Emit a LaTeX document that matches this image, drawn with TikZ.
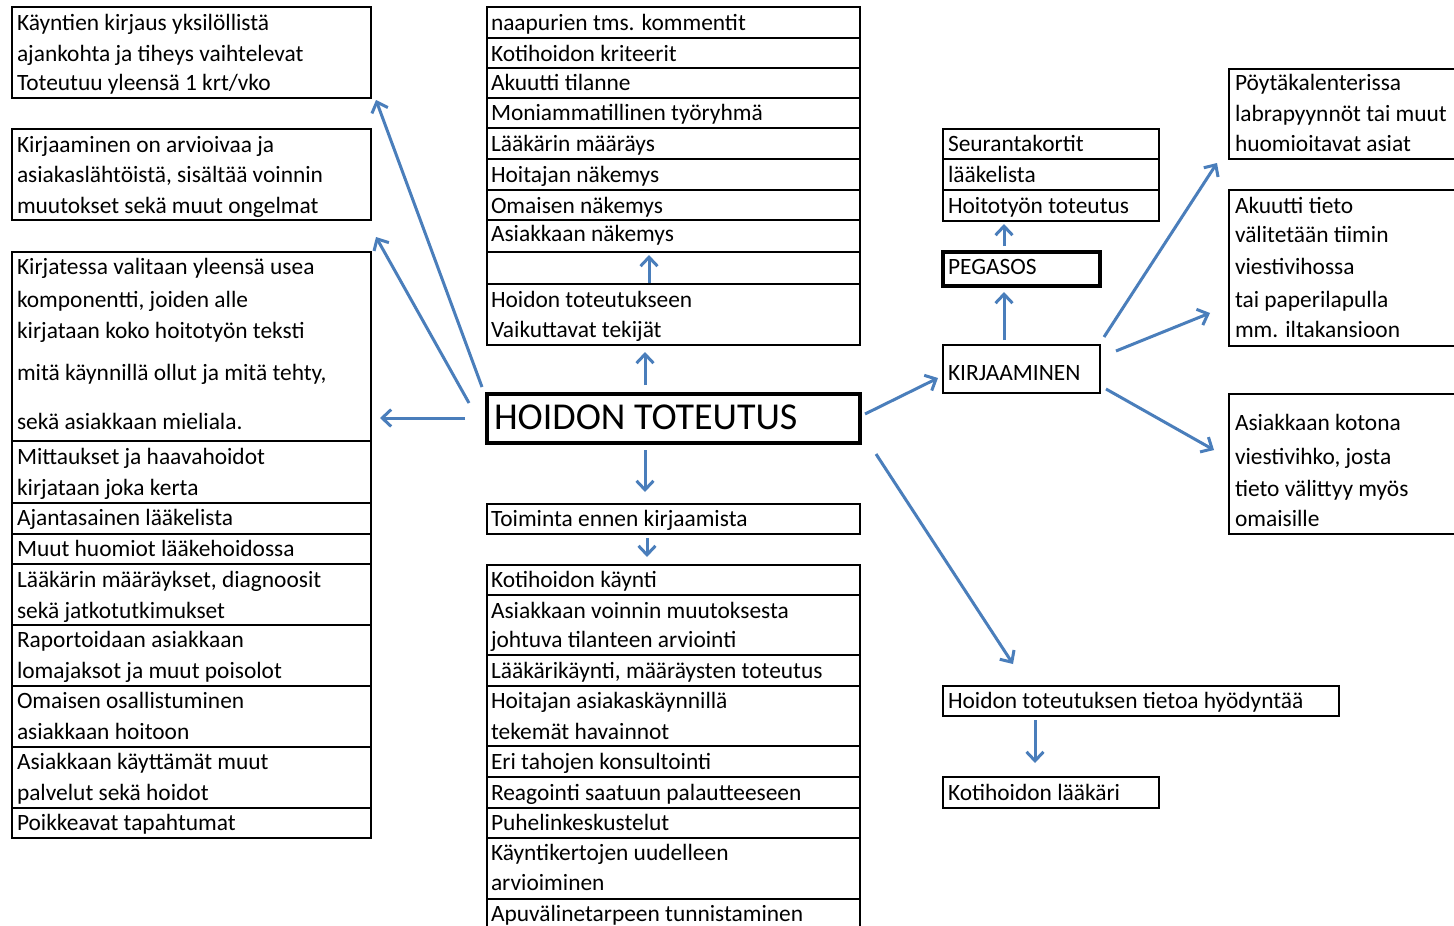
\documentclass[tikz,border=0pt]{standalone}
\usepackage{fontspec}
\setmainfont{Carlito}
\usetikzlibrary{arrows.meta,calc}
\definecolor{arrblue}{HTML}{4A7EBB}
\tikzset{
  box/.style={draw=black, line width=2.7pt, rectangle, inner sep=0pt, outer sep=0pt, anchor=north west},
  thickbox/.style={line width=4pt},
  txt/.style={anchor=base west, inner sep=0pt, outer sep=0pt, font=\fontsize{23.4}{28}\selectfont, text=black},
  bigtxt/.style={anchor=base west, inner sep=0pt, outer sep=0pt, font=\fontsize{38}{44}\selectfont, text=black},
  arr/.style={draw=arrblue, line width=3pt, -{Straight Barb[length=9pt,width=17pt]}},
}
\newcommand{\bx}[6][]{\node[box,minimum width={#5-#3},minimum height={#6-#4},#1] (#2) at (#3,#4) {};}
\newcommand{\tx}[4]{\node[txt] (#1) at (#2,#3+8) {#4};}
\begin{document}
\begin{tikzpicture}[x=1pt,y=-1pt]
\fill[white] (0,0) rectangle (1454,926);
\useasboundingbox (0,0) rectangle (1454,926);

% ---------- left column ----------
\bx{L1}{12}{7}{371}{98}
\tx{l1a}{17}{22}{Käyntien kirjaus yksilöllistä}
\tx{l1b}{17}{53}{ajankohta ja tiheys vaihtelevat}
\tx{l1c}{17}{82}{Toteutuu yleensä 1 krt/vko}
\bx{L2}{12}{129}{371}{220}
\tx{l2a}{17}{144}{Kirjaaminen on arvioivaa ja}
\tx{l2b}{17}{174}{asiakaslähtöistä, sisältää voinnin}
\tx{l2c}{17}{205}{muutokset sekä muut ongelmat}
\bx{L3}{12}{252}{371}{441}
\tx{l3a}{17}{266}{Kirjatessa valitaan yleensä usea}
\tx{l3b}{17}{299}{komponentti, joiden alle}
\tx{l3c}{17}{330}{kirjataan koko hoitotyön teksti}
\tx{l3d}{17}{372}{mitä käynnillä ollut ja mitä tehty,}
\tx{l3e}{17}{421}{sekä asiakkaan mieliala.}
\bx{L4}{12}{441}{371}{503}
\tx{l4a}{17}{456}{Mittaukset ja haavahoidot}
\tx{l4b}{17}{487}{kirjataan joka kerta}
\bx{L5}{12}{503}{371}{534}
\tx{l5a}{17}{517}{Ajantasainen lääkelista}
\bx{L6}{12}{534}{371}{564}
\tx{l6a}{17}{548}{Muut huomiot lääkehoidossa}
\bx{L7}{12}{564}{371}{625}
\tx{l7a}{17}{579}{Lääkärin määräykset, diagnoosit}
\tx{l7b}{17}{610}{sekä jatkotutkimukset}
\bx{L8}{12}{625}{371}{686}
\tx{l8a}{17}{639}{Raportoidaan asiakkaan}
\tx{l8b}{17}{670}{lomajaksot ja muut poisolot}
\bx{L9}{12}{686}{371}{747}
\tx{l9a}{17}{700}{Omaisen osallistuminen}
\tx{l9b}{17}{731}{asiakkaan hoitoon}
\bx{L10}{12}{747}{371}{808}
\tx{l10a}{17}{761}{Asiakkaan käyttämät muut}
\tx{l10b}{17}{792}{palvelut sekä hoidot}
\bx{L11}{12}{808}{371}{838}
\tx{l11a}{17}{822}{Poikkeavat tapahtumat}

% ---------- centre top ----------
\bx{C1}{487}{7}{860}{38}
\tx{c1a}{491}{22}{naapurien tms. kommentit}
\bx{C2}{487}{38}{860}{68}
\tx{c2a}{491}{53}{Kotihoidon kriteerit}
\bx{C3}{487}{68}{860}{98}
\tx{c3a}{491}{82}{Akuutti tilanne}
\bx{C4}{487}{98}{860}{128}
\tx{c4a}{491}{112}{Moniammatillinen työryhmä}
\bx{C5}{487}{128}{860}{159}
\tx{c5a}{491}{143}{Lääkärin määräys}
\bx{C6}{487}{159}{860}{190}
\tx{c6a}{491}{174}{Hoitajan näkemys}
\bx{C7}{487}{190}{860}{220}
\tx{c7a}{491}{205}{Omaisen näkemys}
\bx{C8}{487}{220}{860}{252}
\tx{c8a}{491}{233}{Asiakkaan näkemys}
\bx{C9}{487}{252}{860}{284}
\bx{C10}{487}{284}{860}{345}
\tx{c10a}{491}{299}{Hoidon toteutukseen}
\tx{c10b}{491}{329}{Vaikuttavat tekijät}

% ---------- centre ----------
\bx[thickbox]{hoidon}{487}{394}{860}{443}
\node[bigtxt] (hoidontxt) at (494,429) {HOIDON TOTEUTUS};
\bx{toim}{487}{504}{860}{534}
\tx{toima}{491}{518}{Toiminta ennen kirjaamista}

% ---------- centre bottom ----------
\bx{B1}{487}{565}{860}{595}
\tx{b1a}{491}{579}{Kotihoidon käynti}
\bx{B2}{487}{595}{860}{655}
\tx{b2a}{491}{610}{Asiakkaan voinnin muutoksesta}
\tx{b2b}{491}{639}{johtuva tilanteen arviointi}
\bx{B3}{487}{655}{860}{686}
\tx{b3a}{491}{670}{Lääkärikäynti, määräysten toteutus}
\bx{B4}{487}{686}{860}{746}
\tx{b4a}{491}{700}{Hoitajan asiakaskäynnillä}
\tx{b4b}{491}{731}{tekemät havainnot}
\bx{B5}{487}{746}{860}{777}
\tx{b5a}{491}{761}{Eri tahojen konsultointi}
\bx{B6}{487}{777}{860}{808}
\tx{b6a}{491}{792}{Reagointi saatuun palautteeseen}
\bx{B7}{487}{808}{860}{838}
\tx{b7a}{491}{822}{Puhelinkeskustelut}
\bx{B8}{487}{838}{860}{899}
\tx{b8a}{491}{852}{Käyntikertojen uudelleen}
\tx{b8b}{491}{882}{arvioiminen}
\bx{B9}{487}{899}{860}{940}
\tx{b9a}{491}{913}{Apuvälinetarpeen tunnistaminen}

% ---------- right middle ----------
\bx{S1}{943}{129}{1159}{159}
\tx{s1a}{948}{143}{Seurantakortit}
\bx{S2}{943}{159}{1159}{190}
\tx{s2a}{948}{174}{lääkelista}
\bx{S3}{943}{190}{1159}{221}
\tx{s3a}{948}{205}{Hoitotyön toteutus}
\bx[thickbox]{peg}{943}{252}{1100}{286}
\tx{pega}{948}{266}{PEGASOS}
\bx{kirj}{943}{345}{1100}{393}
\tx{kirja}{948}{372}{KIRJAAMINEN}
\bx{hy}{943}{686}{1339}{716}
\tx{hya}{948}{700}{Hoidon toteutuksen tietoa hyödyntää}
\bx{kl}{943}{777}{1159}{808}
\tx{kla}{948}{792}{Kotihoidon lääkäri}

% ---------- far right ----------
\bx{R1}{1229}{69}{1470}{159}
\tx{r1a}{1235}{82}{Pöytäkalenterissa}
\tx{r1b}{1235}{113}{labrapyynnöt tai muut}
\tx{r1c}{1235}{143}{huomioitavat asiat}
\bx{R2}{1229}{190}{1470}{346}
\tx{r2a}{1235}{205}{Akuutti tieto}
\tx{r2b}{1235}{234}{välitetään tiimin}
\tx{r2c}{1235}{266}{viestivihossa}
\tx{r2d}{1235}{299}{tai paperilapulla}
\tx{r2e}{1235}{329}{mm. iltakansioon}
\bx{R3}{1229}{394}{1470}{534}
\tx{r3a}{1235}{422}{Asiakkaan kotona}
\tx{r3b}{1235}{456}{viestivihko, josta}
\tx{r3c}{1235}{488}{tieto välittyy myös}
\tx{r3d}{1235}{518}{omaisille}

% ---------- arrows ----------
\draw[arr] ($(hoidon.north west)+(-5,-7)$) -- ($(L1.south east)+(5,2)$);
\draw[arr] ($(hoidon.north west)+(-18,9)$) -- ($(L2.south east)+(5,17)$);
\draw[arr] ($(hoidon.north west)+(-22,24)$) -- ($(L3.north east)+(9,166)$);
\draw[arr] ($(hoidon.north west)+(158,-9)$) -- ($(C10.south west)+(158,7)$);
\draw[arr] ($(C9.south west)+(162,-1)$) -- ($(C9.north west)+(162,3)$);
\draw[arr] ($(hoidon.south west)+(158,7)$) -- ($(toim.north west)+(158,-12)$);
\draw[arr] ($(toim.south west)+(160,4)$) -- ($(B1.north west)+(160,-8)$);
\draw[arr] ($(hoidon.north east)+(5,20)$) -- ($(kirj.north west)+(-5,33)$);
\draw[arr] ($(kirj.north west)+(61,-5)$) -- ($(peg.south west)+(61,6)$);
\draw[arr] ($(peg.north west)+(61,-6)$) -- ($(S3.south west)+(61,3)$);
\draw[arr] ($(kirj.north east)+(4,-8)$) -- ($(R1.south west)+(-12,4)$);
\draw[arr] ($(kirj.north east)+(16,6)$) -- ($(R2.north west)+(-19,123)$);
\draw[arr] ($(kirj.south east)+(6,-4)$) -- ($(R3.north west)+(-15,56)$);
\draw[arr] ($(hoidon.south east)+(16,11)$) -- ($(hy.north west)+(70,-22)$);
\draw[arr] ($(hy.south west)+(92,4)$) -- ($(kl.north west)+(92,-14)$);
\end{tikzpicture}
\end{document}
